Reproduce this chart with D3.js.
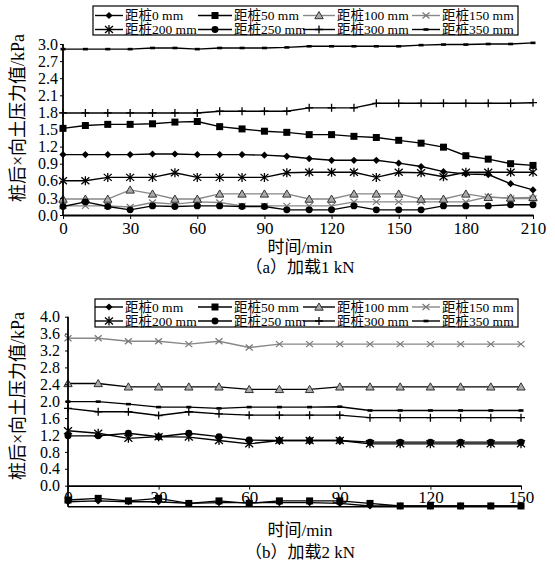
<!DOCTYPE html>
<html><head><meta charset="utf-8">
<script src="https://cdn.jsdelivr.net/npm/d3@7/dist/d3.min.js"></script>
<style>
body{margin:0;background:#fff}
svg{display:block}
text{font-family:"Liberation Serif","Times New Roman","Noto Sans CJK SC",serif;fill:#000}
</style>
</head><body>
<svg id="c" width="555" height="562"></svg>
<script>
// ---------- data ----------
const seriesNames = ["距桩0 mm","距桩50 mm","距桩100 mm","距桩150 mm","距桩200 mm","距桩250 mm","距桩300 mm","距桩350 mm"];

const timeA = [0,10,20,30,40,50,60,70,80,90,100,110,120,130,140,150,160,170,180,190,200,210];
const a0   = [1.06,1.06,1.06,1.06,1.07,1.07,1.06,1.06,1.06,1.05,1.03,0.99,0.96,0.96,0.96,0.91,0.85,0.76,0.72,0.71,0.55,0.44];
const a50  = [1.52,1.57,1.59,1.59,1.60,1.63,1.64,1.55,1.51,1.47,1.45,1.41,1.41,1.38,1.36,1.31,1.26,1.19,1.04,0.98,0.90,0.87];
const a100 = [0.28,0.28,0.28,0.44,0.37,0.28,0.28,0.37,0.37,0.37,0.37,0.28,0.28,0.37,0.37,0.37,0.28,0.28,0.37,0.31,0.30,0.31];
const a150 = [0.16,0.16,0.16,0.14,0.22,0.19,0.23,0.22,0.16,0.16,0.16,0.16,0.16,0.23,0.23,0.23,0.23,0.23,0.23,0.32,0.29,0.29];
const a200 = [0.60,0.60,0.66,0.66,0.66,0.74,0.66,0.66,0.66,0.66,0.74,0.75,0.75,0.75,0.66,0.75,0.74,0.67,0.75,0.75,0.75,0.75];
const a250 = [0.15,0.23,0.15,0.09,0.16,0.15,0.16,0.16,0.15,0.15,0.09,0.09,0.09,0.16,0.09,0.09,0.09,0.16,0.16,0.16,0.18,0.18];
const a300 = [1.79,1.79,1.79,1.79,1.79,1.79,1.79,1.82,1.82,1.82,1.82,1.88,1.88,1.88,1.96,1.96,1.96,1.96,1.96,1.96,1.96,1.97];
const a350 = [2.91,2.91,2.91,2.91,2.93,2.93,2.91,2.93,2.93,2.93,2.94,2.96,2.96,2.96,2.96,2.96,2.98,2.99,2.99,3.00,3.00,3.02];

const timeB = [0,10,20,30,40,50,60,70,80,90,100,110,120,130,140,150];
const b0   = [-0.38,-0.36,-0.38,-0.38,-0.42,-0.40,-0.40,-0.40,-0.40,-0.42,-0.48,-0.48,-0.48,-0.48,-0.48,-0.48];
const b50  = [-0.34,-0.30,-0.36,-0.30,-0.42,-0.36,-0.42,-0.36,-0.36,-0.36,-0.42,-0.48,-0.48,-0.48,-0.48,-0.48];
const b100 = [2.42,2.42,2.34,2.34,2.34,2.34,2.28,2.28,2.28,2.34,2.34,2.34,2.34,2.34,2.34,2.34];
const b150 = [3.49,3.49,3.42,3.42,3.35,3.42,3.27,3.35,3.35,3.35,3.35,3.35,3.35,3.35,3.35,3.35];
const b200 = [1.30,1.24,1.12,1.16,1.15,1.07,0.99,1.07,1.07,1.07,0.99,0.99,0.99,0.99,0.99,0.99];
const b250 = [1.18,1.18,1.24,1.16,1.24,1.16,1.08,1.07,1.07,1.07,1.03,1.03,1.03,1.03,1.03,1.03];
const b300 = [1.83,1.75,1.75,1.66,1.75,1.70,1.67,1.67,1.67,1.67,1.61,1.61,1.61,1.61,1.61,1.61];
const b350 = [1.99,1.99,1.93,1.86,1.86,1.83,1.86,1.86,1.86,1.87,1.78,1.78,1.78,1.78,1.78,1.78];

const yTicksA = [0,0.3,0.6,0.9,1.2,1.5,1.8,2.1,2.4,2.7,3.0];
const xTicksA = [0,30,60,90,120,150,180,210];
const yTicksB = [0,0.4,0.8,1.2,1.6,2.0,2.4,2.8,3.2,3.6,4.0];
const xTicksB = [0,30,60,90,120,150];

const yTitle = "桩后×向土压力值/kPa";
const xTitle = "时间/min";
const captionA = "（a）加载1 kN";
const captionB = "（b）加载2 kN";

// ---------- styles ----------
const markers = ["diamond","square","triangle","xcross","asterisk","circle","plus","dash"];
function markerPath(t){
  switch(t){
    case "diamond": return "M0,-3.6L3.6,0L0,3.6L-3.6,0Z";
    case "square": return "M-3.5,-3.5h7v7h-7Z";
    case "triangle": return "M0,-4L4.2,3.2L-4.2,3.2Z";
    case "circle": return d3.symbol(d3.symbolCircle, 38)();
    case "xcross": return "M-3.5,-3L3.5,3M-3.5,3L3.5,-3";
    case "asterisk": return "M-4,-3.5L4,3.5M-4,3.5L4,-3.5M0,-4.5L0,4.5";
    case "plus": return "M0,-4L0,4M-4,0L4,0";
    case "dash": return "M-2.5,0L2.5,0";
  }
}
function markerStyle(sel, t){
  if(t==="triangle"){ sel.attr("fill","#aaa").attr("stroke","#333").attr("stroke-width",1); }
  else if(t==="xcross"){ sel.attr("fill","none").attr("stroke","#777").attr("stroke-width",1.2); }
  else if(t==="asterisk"||t==="plus"){ sel.attr("fill","none").attr("stroke","#000").attr("stroke-width",1.3); }
  else if(t==="dash"){ sel.attr("fill","none").attr("stroke","#000").attr("stroke-width",2.6); }
  else { sel.attr("fill","#000").attr("stroke","none"); }
}

const svg = d3.select("#c");

function panel(cfg){
  const g = svg.append("g");
  const x = d3.scaleLinear().domain(cfg.xDomain).range(cfg.xRange);
  const y = d3.scaleLinear().domain(cfg.yDomain).range(cfg.yRange);
  const line = d3.line().x((d,i)=>x(cfg.time[i])).y(d=>y(d));

  const order = [3,2,0,1,4,5,6,7];
  order.forEach(k=>{
    const vals = cfg.series[k];
    g.append("path").attr("d", line(vals)).attr("fill","none")
      .attr("stroke", cfg.lineColors[k]).attr("stroke-width", 1.4);
    g.selectAll(null).data(vals).enter().append("path")
      .attr("d", markerPath(markers[k]))
      .attr("transform",(d,i)=>`translate(${x(cfg.time[i])},${y(d)})`)
      .call(s=>markerStyle(s, markers[k]));
  });

  // y axis
  const ya = d3.axisLeft(y).tickValues(cfg.yTicks).tickFormat(d3.format(".1f"))
    .tickSize(3).tickSizeOuter(0).tickPadding(cfg.yPad);
  const yg = g.append("g").attr("transform",`translate(${cfg.xRange[0]},0)`).call(ya);
  yg.select(".domain").attr("stroke","#000").attr("stroke-width",1.8)
    .attr("d",`M0,${cfg.yAxisTop}V${cfg.yAxisBottom}`);
  yg.selectAll(".tick line").attr("stroke","#000").attr("stroke-width",1);
  yg.selectAll(".tick text").style("font-size","16px").attr("dy","0.32em");

  // x axis
  const xa = d3.axisBottom(x).tickValues(cfg.xTicks).tickFormat(d3.format("d"))
    .tickSize(4).tickSizeOuter(0).tickPadding(cfg.xPad);
  const xg = g.append("g").attr("transform",`translate(0,${y(0)})`).call(xa);
  xg.select(".domain").attr("stroke","#000").attr("stroke-width",1.8);
  xg.selectAll(".tick line").attr("stroke","#000").attr("stroke-width",1);
  xg.selectAll(".tick text").style("font-size","17px");
  if(cfg.bottomLine){
    g.append("line").attr("x1",cfg.xRange[0]).attr("x2",cfg.xRange[1])
      .attr("y1",y(cfg.yDomain[0])).attr("y2",y(cfg.yDomain[0]))
      .attr("stroke","#000").attr("stroke-width",1.6);
  }

  // titles
  g.append("text").attr("transform",`translate(${cfg.yTitlePos[0]},${cfg.yTitlePos[1]}) rotate(-90)`)
    .attr("text-anchor","middle").attr("dy","0.35em").style("font-size","18px").text(yTitle);
  g.append("text").attr("x",300).attr("y",cfg.xTitleY).attr("text-anchor","middle")
    .style("font-size","17px").text(xTitle);
  g.append("text").attr("x",300).attr("y",cfg.captionY).attr("text-anchor","middle")
    .style("font-size","17px").text(cfg.caption);

  // legend
  const L = g.append("g");
  L.append("rect").attr("x",cfg.legBox[0]).attr("y",cfg.legBox[1])
    .attr("width",cfg.legBox[2]).attr("height",cfg.legBox[3])
    .attr("fill","#fff").attr("stroke","#000").attr("stroke-width",1.2);
  const lineX = [[95,123],[198,232],[303,335],[412,440]];
  const textX = [125,234,337,442];
  seriesNames.forEach((nm,k)=>{
    const row = Math.floor(k/4), col = k%4;
    const ly = cfg.legRows[row];
    const [x1,x2] = lineX[col];
    L.append("line").attr("x1",x1).attr("x2",x2).attr("y1",ly).attr("y2",ly)
      .attr("stroke",cfg.lineColors[k]).attr("stroke-width",1.4);
    L.append("path").attr("d",markerPath(markers[k]))
      .attr("transform",`translate(${(x1+x2)/2},${ly})`).call(s=>markerStyle(s,markers[k]));
    L.append("text").attr("x",textX[col]).attr("y",ly).attr("dy","0.35em")
      .style("font-size","13.5px").text(nm);
  });
}

panel({
  time: timeA, series:[a0,a50,a100,a150,a200,a250,a300,a350],
  lineColors:["#000","#000","#888","#888","#000","#000","#000","#000"],
  xDomain:[0,210], xRange:[63,533], yDomain:[0,3], yRange:[215,44],
  yTicks:yTicksA, xTicks:xTicksA, yPad:2, xPad:3,
  yAxisTop:44, yAxisBottom:215,
  yTitlePos:[18,118], xTitleY:253, captionY:273, caption:captionA,
  legBox:[93,6,425,29], legRows:[15.5,29.5]
});

panel({
  time: timeB, series:[b0,b50,b100,b150,b200,b250,b300,b350],
  lineColors:["#000","#000","#000","#888","#000","#000","#000","#000"],
  xDomain:[0,150], xRange:[68,521], yDomain:[-0.5,4.0], yRange:[506.8,316.7],
  yTicks:yTicksB, xTicks:xTicksB, yPad:5, xPad:1,
  yAxisTop:316.7, yAxisBottom:506.8, bottomLine:true,
  yTitlePos:[18,396], xTitleY:536, captionY:558, caption:captionB,
  legBox:[95,299,423,28], legRows:[307,321]
});
</script>
</body></html>
